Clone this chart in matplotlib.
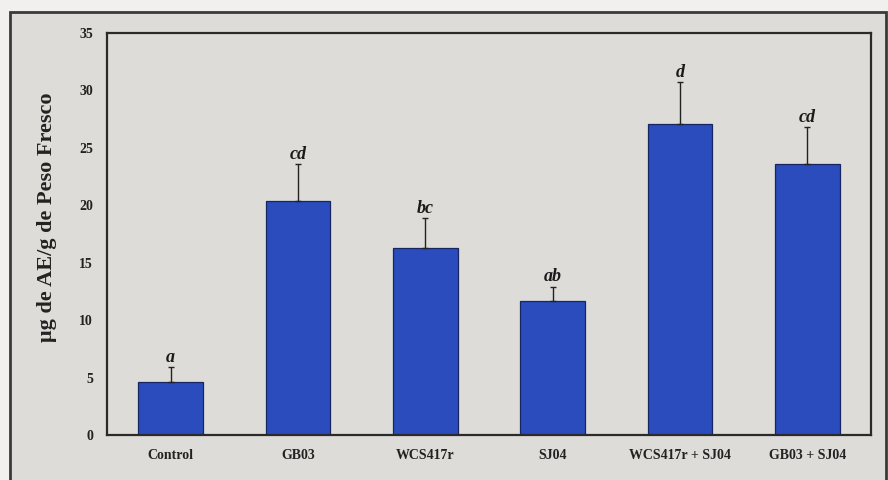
import numpy as np
import matplotlib
matplotlib.use('Agg')
import matplotlib.pyplot as plt
from matplotlib.patches import Rectangle

# Values
categories = ['Control', 'GB03', 'WCS417r', 'SJ04', 'WCS417r + SJ04', 'GB03 + SJ04']
means = [4.6, 20.4, 16.3, 11.7, 27.1, 23.6]
errors = [1.3, 3.2, 2.6, 1.2, 3.6, 3.2]
letters = ['a', 'cd', 'bc', 'ab', 'd', 'cd']
yticks = [0, 5, 10, 15, 20, 25, 30, 35]

plt.rcParams['font.family'] = ['Liberation Serif', 'DejaVu Serif']

fig = plt.figure(figsize=(8.88, 4.8), dpi=100, facecolor='#f1f0ee')

# scanned page: gray panel with a dark frame (kept behind the axes)
fig.patches.append(Rectangle((10 / 888, -0.05), 876 / 888, 1.05 - 12 / 480,
                             transform=fig.transFigure, facecolor='#dddcd8',
                             edgecolor='#3a3a3a', linewidth=2, zorder=-5))

ax = fig.add_axes([107 / 888, 45 / 480, 764 / 888, 402 / 480])
ax.set_zorder(2)
ax.set_facecolor('#dddcd8')

x = np.arange(len(categories))
ax.bar(x, means, width=0.51, color='#2a4cbc', edgecolor='#172560',
       linewidth=0.9, zorder=2)
ax.errorbar(x, means, yerr=[np.zeros(len(errors)), errors], fmt='none',
            ecolor='#222222', elinewidth=1, capsize=2.5, capthick=1, zorder=3)

for xi, m, e, lab in zip(x, means, errors, letters):
    ax.annotate(lab, (xi, m + e), xytext=(0, 1), textcoords='offset points',
                ha='center', va='bottom', fontsize=13, fontweight='bold',
                fontstyle='italic', color='#1a1a1a')

ax.set_xlim(-0.5, len(categories) - 0.5)
ax.set_ylim(0, 35)
ax.set_yticks(yticks)
ax.set_xticks(x)
ax.set_xticklabels(categories)
ax.tick_params(axis='both', length=0, labelsize=10, colors='#222222')
ax.tick_params(axis='y', pad=10)
ax.tick_params(axis='x', pad=10)
for t in ax.get_xticklabels() + ax.get_yticklabels():
    t.set_fontweight('bold')

for s in ax.spines.values():
    s.set_linewidth(1.6)
    s.set_color('#2a2a2a')

ax.set_ylabel('μg de AE/g de Peso Fresco', fontsize=16, fontweight='bold',
              color='#222222')
ax.yaxis.set_label_coords(-0.065, 0.542)

fig.savefig('out.png', dpi=100, facecolor=fig.get_facecolor())
